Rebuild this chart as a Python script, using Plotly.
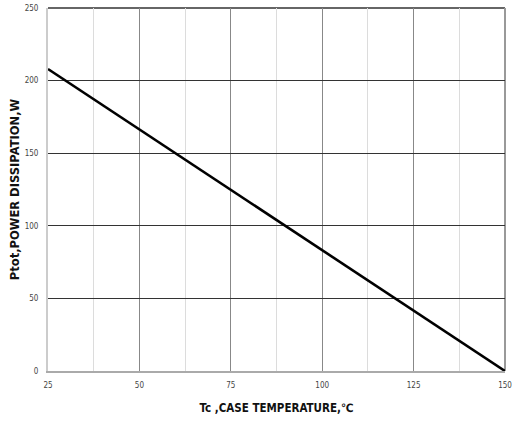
import plotly.graph_objects as go

temp_c = [25, 150]
power_w = [208, 0]
x_ticks = [25, 50, 75, 100, 125, 150]
y_ticks = [0, 50, 100, 150, 200, 250]

fig = go.Figure()
fig.add_trace(go.Scatter(x=temp_c, y=power_w, mode="lines",
                         line=dict(color="#000000", width=2.6), showlegend=False, cliponaxis=False))

cond = "DejaVu Sans Condensed, sans-serif"
tickfont = dict(family=cond, size=8, color="#444444")
fig.update_layout(
    width=517, height=421,
    margin=dict(l=48, r=12, t=8, b=50),
    paper_bgcolor="white", plot_bgcolor="white",
    xaxis=dict(range=[25, 150], tickvals=x_ticks, showgrid=True, gridcolor="#888888", gridwidth=1,
               minor=dict(dtick=12.5, tick0=25, showgrid=True, gridcolor="#dcdcdc", gridwidth=1),
               showline=True, linecolor="#aaaaaa", linewidth=2, mirror=False, automargin=False,
               ticks="", tickfont=tickfont, zeroline=False, ticklabelstandoff=5,
               title=dict(text="<b>Tc ,CASE TEMPERATURE,℃</b>", standoff=15,
                          font=dict(family=cond, size=11.5, color="#111111"))),
    yaxis=dict(range=[0, 250], tickvals=y_ticks, showgrid=True, gridcolor="#333333", gridwidth=1,
               showline=True, linecolor="#cccccc", linewidth=2, automargin=False,
               ticks="", tickfont=tickfont, zeroline=False, ticklabelstandoff=6,
               title=dict(text="<b>Ptot,POWER DISSIPATION,W</b>", standoff=3,
                          font=dict(family="DejaVu Sans, sans-serif", size=11.5, color="#111111"))),
    shapes=[
        dict(type="line", xref="paper", yref="paper", x0=0, x1=1, y0=1, y1=1,
             line=dict(color="#333333", width=1.5), layer="below"),
        dict(type="line", xref="paper", yref="paper", x0=1, x1=1, y0=0, y1=1,
             line=dict(color="#999999", width=2), layer="below"),
    ],
)
fig.write_html("out.html", config={"displayModeBar": False},
               post_script="document.body.style.margin='0';")
